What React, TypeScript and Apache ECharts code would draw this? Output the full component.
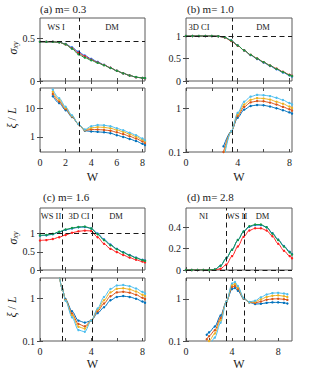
import React, { useEffect, useRef } from "react";
import * as echarts from "echarts";

// ---------- Data ----------
// Panel (a) m = 0.3 : Hall conductivity sigma_xy vs W
const wA = [0, 0.5, 1, 1.5, 2, 2.5, 3, 3.5, 4, 4.5, 5, 5.5, 6, 6.5, 7, 7.5, 8, 8.2];
const sigmaA_blue = [0.46, 0.46, 0.46, 0.455, 0.435, 0.395, 0.345, 0.3, 0.26, 0.225, 0.19, 0.155, 0.12, 0.09, 0.065, 0.045, 0.035, 0.033];
const sigmaA_red = [0.46, 0.46, 0.46, 0.455, 0.43, 0.385, 0.33, 0.29, 0.25, 0.218, 0.188, 0.155, 0.12, 0.09, 0.065, 0.045, 0.035, 0.033];
const sigmaA_green = [0.46, 0.46, 0.46, 0.455, 0.43, 0.38, 0.315, 0.275, 0.243, 0.213, 0.185, 0.153, 0.12, 0.09, 0.065, 0.046, 0.036, 0.034];
// Panel (a) xi/L vs W for four system sizes
const wAxi = [1, 1.5, 2, 2.5, 3, 3.5, 4, 4.5, 5, 5.5, 6, 6.5, 7, 7.5, 8, 8.2];
const xiA_L1 = [26, 14.9, 8.5, 4.9, 2.8, 1.65, 1.55, 1.5, 1.45, 1.35, 1.15, 1.0, 0.85, 0.72, 0.58, 0.52];
const xiA_L2 = [31, 17, 9.3, 5.1, 2.8, 1.7, 1.8, 1.8, 1.75, 1.65, 1.45, 1.25, 1.05, 0.88, 0.7, 0.62];
const xiA_L3 = [37, 19.4, 10.2, 5.3, 2.8, 1.75, 2.05, 2.2, 2.15, 2.0, 1.75, 1.5, 1.25, 1.02, 0.8, 0.7];
const xiA_L4 = [44, 22, 11.1, 5.6, 2.8, 1.8, 2.35, 2.6, 2.55, 2.35, 2.0, 1.7, 1.4, 1.15, 0.88, 0.76];

// Panel (b) m = 1.0
const wB = [0, 0.5, 1, 1.5, 2, 2.5, 3, 3.5, 4, 4.5, 5, 5.5, 6, 6.5, 7, 7.5, 8, 8.2];
const sigmaB_blue = [1, 1, 1, 1, 1, 0.995, 0.97, 0.9, 0.79, 0.68, 0.575, 0.49, 0.41, 0.335, 0.26, 0.19, 0.125, 0.1];
const sigmaB_red = [1, 1, 1, 1, 1, 0.995, 0.965, 0.89, 0.785, 0.68, 0.58, 0.5, 0.42, 0.345, 0.275, 0.205, 0.14, 0.115];
const sigmaB_green = [1, 1, 1, 1, 1, 0.995, 0.97, 0.9, 0.79, 0.68, 0.58, 0.5, 0.42, 0.345, 0.27, 0.2, 0.135, 0.11];
const wBxi = [2.9, 3.5, 4, 4.5, 5, 5.5, 6, 6.5, 7, 7.5, 8, 8.2];
const xiB_L1 = [0.135, 0.3, 0.62, 0.95, 1.15, 1.22, 1.2, 1.12, 1.02, 0.92, 0.82, 0.77];
const xiB_L2 = [0.1, 0.3, 0.68, 1.1, 1.4, 1.5, 1.48, 1.38, 1.25, 1.1, 0.97, 0.9];
const xiB_L3 = [0.08, 0.3, 0.74, 1.25, 1.6, 1.75, 1.72, 1.62, 1.45, 1.3, 1.12, 1.04];
const xiB_L4 = [0.065, 0.3, 0.8, 1.45, 1.9, 2.08, 2.05, 1.95, 1.78, 1.58, 1.35, 1.25];

// Panel (c) m = 1.6
const wC = [0, 0.5, 1, 1.5, 2, 2.5, 3, 3.5, 4, 4.5, 5, 5.5, 6, 6.5, 7, 7.5, 8, 8.2];
const sigmaC_blue = [0.94, 0.95, 0.98, 1.04, 1.1, 1.14, 1.17, 1.18, 1.14, 1.0, 0.84, 0.7, 0.58, 0.49, 0.41, 0.34, 0.28, 0.26];
const sigmaC_red = [0.81, 0.82, 0.85, 0.9, 0.96, 1.02, 1.06, 1.08, 1.07, 0.9, 0.72, 0.58, 0.49, 0.41, 0.34, 0.28, 0.23, 0.21];
const sigmaC_green = [0.95, 0.96, 0.99, 1.05, 1.11, 1.15, 1.18, 1.19, 1.14, 0.98, 0.82, 0.68, 0.57, 0.48, 0.4, 0.33, 0.27, 0.25];
const wCxi = [1.5, 1.75, 2, 2.5, 3, 3.5, 4, 4.5, 5, 5.5, 6, 6.5, 7, 7.5, 8, 8.2];
const xiC_L1 = [3.5, 1.6, 0.95, 0.5, 0.3, 0.27, 0.3, 0.45, 0.62, 0.9, 1.08, 1.13, 1.08, 0.98, 0.84, 0.79];
const xiC_L2 = [3.5, 1.6, 0.92, 0.44, 0.25, 0.22, 0.3, 0.5, 0.76, 1.12, 1.38, 1.43, 1.36, 1.22, 1.03, 0.96];
const xiC_L3 = [3.5, 1.6, 0.9, 0.4, 0.215, 0.195, 0.3, 0.54, 0.9, 1.38, 1.68, 1.73, 1.62, 1.45, 1.22, 1.13];
const xiC_L4 = [3.5, 1.6, 0.88, 0.36, 0.18, 0.165, 0.3, 0.58, 1.08, 1.65, 2.0, 2.05, 1.92, 1.7, 1.42, 1.3];

// Panel (d) m = 2.8
const wD = [0, 0.5, 1, 1.5, 2, 2.5, 3, 3.5, 4, 4.5, 5, 5.5, 6, 6.5, 7, 7.5, 8, 8.5, 9, 9.2];
const sigmaD_blue = [0, 0, 0, 0, 0, 0.005, 0.04, 0.11, 0.19, 0.28, 0.36, 0.405, 0.42, 0.42, 0.4, 0.345, 0.285, 0.225, 0.17, 0.15];
const sigmaD_red = [0, 0, 0, 0, 0, 0.001, 0.012, 0.05, 0.13, 0.22, 0.31, 0.37, 0.39, 0.39, 0.37, 0.315, 0.245, 0.18, 0.13, 0.11];
const sigmaD_green = [0, 0, 0, 0, 0, 0.005, 0.04, 0.11, 0.19, 0.28, 0.36, 0.41, 0.425, 0.425, 0.4, 0.34, 0.28, 0.22, 0.165, 0.145];
const wDxi = [1.8, 2, 2.5, 3, 3.5, 4, 4.25, 4.5, 5, 5.5, 6, 6.5, 7, 7.5, 8, 8.5, 8.8];
const xiD_L1 = [0.14, 0.16, 0.22, 0.4, 0.85, 1.7, 1.8, 1.55, 1.0, 0.82, 0.75, 0.76, 0.8, 0.82, 0.82, 0.8, 0.77];
const xiD_L2 = [0.11, 0.13, 0.18, 0.35, 0.85, 1.9, 2.0, 1.7, 1.02, 0.82, 0.8, 0.86, 0.95, 0.99, 1.0, 0.97, 0.94];
const xiD_L3 = [0.085, 0.1, 0.15, 0.31, 0.85, 2.1, 2.25, 1.85, 1.04, 0.83, 0.85, 0.97, 1.1, 1.18, 1.2, 1.15, 1.1];
const xiD_L4 = [0.065, 0.08, 0.12, 0.27, 0.85, 2.3, 2.5, 2.0, 1.05, 0.84, 0.9, 1.08, 1.26, 1.36, 1.38, 1.33, 1.28];

// Phase boundaries (dashed lines) and quantized plateaus
const boundariesA = [3.03];
const plateauA = [0.465];
const boundariesB = [3.6];
const plateauB = [1];
const boundariesC = [1.77, 4.05];
const plateauC = [1.0];
const boundariesD = [3.48, 5.08];
const plateauD = [0];

// Tick labels
const xTicks = [0, 2, 4, 6, 8];
const xLabelsA = [0, 2, 4, 6, 8];
const xLabelsBCD = [0, 4, 8];
const yLabelsA = [0, 0.5];
const yLabelsB = [0, 0.5, 1];
const yLabelsC = [0, 0.5, 1];
const yLabelsD = [0, 0.2, 0.4];
const yLabelsXiA = [1, 10];
const yLabelsXi = [0.1, 1];

// ---------- Styling ----------
const FONT = '"Liberation Serif", "Times New Roman", serif';
const TOP_BLUE = "#1a6ee8";
const TOP_RED = "#ff1f1f";
const TOP_GREEN = "#139a43";
const XI_COLORS = ["#0072BD", "#D95319", "#EDB120", "#4DBEEE"];
const AXIS_COLOR = "#4a4a4a";
const TEXT_COLOR = "#1a1a1a";

const zip = (xs: number[], ys: number[]) => xs.map((x, i) => [x, ys[i]]);

type GridDef = { left: number; top: number; width: number; height: number };
const gridDefs: GridDef[] = [
  { left: 40, top: 18, width: 105, height: 63 }, // a top
  { left: 40, top: 88, width: 105, height: 64 }, // a bottom
  { left: 186, top: 18, width: 106, height: 63 }, // b top
  { left: 186, top: 88, width: 106, height: 64 }, // b bottom
  { left: 40, top: 208, width: 105, height: 62 }, // c top
  { left: 40, top: 278, width: 105, height: 63 }, // c bottom
  { left: 186, top: 208, width: 106, height: 62 }, // d top
  { left: 186, top: 278, width: 106, height: 63 }, // d bottom
];

type YDef = { type: "value" | "log"; min: number; max: number; labels: number[] };
const xMaxes = [8.2, 8.2, 8.2, 8.2, 8.2, 8.2, 9.2, 9.2];
const xLabelSets: (number[] | null)[] = [null, xLabelsA, null, xLabelsBCD, null, xLabelsBCD, null, xLabelsBCD];
const yDefs: YDef[] = [
  { type: "value", min: 0, max: 0.74, labels: yLabelsA },
  { type: "log", min: 0.3, max: 50, labels: yLabelsXiA },
  { type: "value", min: 0, max: 1.4, labels: yLabelsB },
  { type: "log", min: 0.1, max: 3, labels: yLabelsXi },
  { type: "value", min: 0, max: 1.7, labels: yLabelsC },
  { type: "log", min: 0.1, max: 3, labels: yLabelsXi },
  { type: "value", min: 0, max: 0.58, labels: yLabelsD },
  { type: "log", min: 0.1, max: 3.1, labels: yLabelsXi },
];

const inList = (list: number[], v: number) =>
  list.some((l) => Math.abs(l - v) <= 1e-6 * Math.max(1, Math.abs(l)));
const fmt = (v: number) => String(+Number(v).toPrecision(6));

function buildXAxes(gi: number) {
  const labels = xLabelSets[gi];
  const common = {
    type: "value",
    gridIndex: gi,
    min: 0,
    max: xMaxes[gi],
    axisLine: { show: false },
    splitLine: { show: false },
    axisTick: {
      show: true,
      inside: true,
      length: 3,
      customValues: xTicks,
      lineStyle: { color: AXIS_COLOR, width: 1 },
    },
  };
  const main = {
    ...common,
    position: "bottom",
    axisLabel: labels
      ? {
          show: true,
          customValues: labels,
          margin: 5,
          fontFamily: FONT,
          fontSize: 10,
          color: TEXT_COLOR,
          formatter: (v: number) => (inList(labels, v) ? fmt(v) : ""),
        }
      : { show: false },
  };
  const mirror = { ...common, position: "top", axisLabel: { show: false } };
  return [main, mirror];
}

function buildYAxes(gi: number) {
  const d = yDefs[gi];
  const ticks = d.type === "log" ? d.labels.concat([10].filter((t) => t <= d.max && !d.labels.includes(t))) : d.labels;
  const common: any = {
    type: d.type,
    gridIndex: gi,
    min: d.min,
    max: d.max,
    axisLine: { show: false },
    splitLine: { show: false },
    axisTick: {
      show: true,
      inside: true,
      length: 3,
      customValues: ticks,
      lineStyle: { color: AXIS_COLOR, width: 1 },
    },
  };
  if (d.type === "log") common.logBase = 10;
  const main = {
    ...common,
    position: "left",
    axisLabel: {
      show: true,
      customValues: d.labels,
      margin: 5,
      fontFamily: FONT,
      fontSize: 10,
      color: TEXT_COLOR,
      formatter: (v: number) => (inList(d.labels, v) ? fmt(v) : ""),
    },
  };
  const mirror = { ...common, position: "right", axisLabel: { show: false } };
  return [main, mirror];
}

function dashLines(xs: number[], ys: number[]) {
  return {
    silent: true,
    symbol: ["none", "none"],
    label: { show: false },
    emphasis: { disabled: true },
    lineStyle: { color: "#1a1a1a", type: [5, 3.5], width: 1 },
    data: [...xs.map((x) => ({ xAxis: x })), ...ys.map((y) => ({ yAxis: y }))],
  };
}

function line(gi: number, xs: number[], ys: number[], color: string, marks?: any) {
  const s: any = {
    type: "line",
    xAxisIndex: 2 * gi,
    yAxisIndex: 2 * gi,
    data: zip(xs, ys),
    smooth: 0.3,
    smoothMonotone: "x",
    symbol: "circle",
    symbolSize: 2.4,
    showSymbol: true,
    showAllSymbol: true,
    clip: true,
    silent: true,
    lineStyle: { color, width: 1 },
    itemStyle: { color },
    emphasis: { disabled: true },
  };
  if (marks) s.markLine = marks;
  return s;
}

function sigmaSeries(gi: number, xs: number[], blue: number[], red: number[], green: number[], marks: any) {
  return [line(gi, xs, blue, TOP_BLUE, marks), line(gi, xs, red, TOP_RED), line(gi, xs, green, TOP_GREEN)];
}

function xiSeries(gi: number, xs: number[], sets: number[][], marks: any) {
  return sets.map((ys, i) => line(gi, xs, ys, XI_COLORS[i], i === 0 ? marks : undefined));
}

function txt(text: string, x: number, y: number, size: number, align = "center", extra: any = {}) {
  return {
    type: "text",
    x,
    y,
    silent: true,
    style: {
      text,
      fontFamily: FONT,
      fontSize: size,
      fill: TEXT_COLOR,
      align,
      verticalAlign: "middle",
      textAlign: align,
      textVerticalAlign: "middle",
      ...extra,
    },
  };
}

function sigmaLabel(x: number, y: number) {
  return {
    type: "text",
    x,
    y,
    rotation: Math.PI / 2,
    silent: true,
    style: {
      text: "{i|σ}{s|xy}",
      fill: TEXT_COLOR,
      align: "center",
      verticalAlign: "middle",
      textAlign: "center",
      textVerticalAlign: "middle",
      rich: {
        i: { fontFamily: FONT, fontStyle: "italic", fontSize: 12, lineHeight: 14, fill: TEXT_COLOR },
        s: { fontFamily: FONT, fontStyle: "italic", fontSize: 8, lineHeight: 14, verticalAlign: "bottom", padding: [5, 0, 0, 0], fill: TEXT_COLOR },
      },
    },
  };
}

function xiLabel(x: number, y: number) {
  return {
    type: "text",
    x,
    y,
    rotation: Math.PI / 2,
    silent: true,
    style: {
      text: "{i|ξ}{n| / }{i|L}",
      fill: TEXT_COLOR,
      align: "center",
      verticalAlign: "middle",
      textAlign: "center",
      textVerticalAlign: "middle",
      rich: {
        i: { fontFamily: FONT, fontStyle: "italic", fontSize: 12, fill: TEXT_COLOR },
        n: { fontFamily: FONT, fontSize: 12, fill: TEXT_COLOR },
      },
    },
  };
}

export default function App() {
  const ref = useRef<HTMLDivElement>(null);

  useEffect(() => {
    if (!ref.current) return;
    const chart = echarts.init(ref.current, undefined, { renderer: "svg" });

    const xAxis: any[] = [];
    const yAxis: any[] = [];
    gridDefs.forEach((_, gi) => {
      xAxis.push(...buildXAxes(gi));
      yAxis.push(...buildYAxes(gi));
    });

    const series: any[] = [
      ...sigmaSeries(0, wA, sigmaA_blue, sigmaA_red, sigmaA_green, dashLines(boundariesA, plateauA)),
      ...xiSeries(1, wAxi, [xiA_L1, xiA_L2, xiA_L3, xiA_L4], dashLines(boundariesA, [])),
      ...sigmaSeries(2, wB, sigmaB_blue, sigmaB_red, sigmaB_green, dashLines(boundariesB, plateauB)),
      ...xiSeries(3, wBxi, [xiB_L1, xiB_L2, xiB_L3, xiB_L4], dashLines(boundariesB, [])),
      ...sigmaSeries(4, wC, sigmaC_blue, sigmaC_red, sigmaC_green, dashLines(boundariesC, plateauC)),
      ...xiSeries(5, wCxi, [xiC_L1, xiC_L2, xiC_L3, xiC_L4], dashLines(boundariesC, [])),
      ...sigmaSeries(6, wD, sigmaD_blue, sigmaD_red, sigmaD_green, dashLines(boundariesD, plateauD)),
      ...xiSeries(7, wDxi, [xiD_L1, xiD_L2, xiD_L3, xiD_L4], dashLines(boundariesD, [])),
    ];

    const graphic = [
      txt("(a) m= 0.3", 40, 9, 11, "left"),
      txt("(b) m= 1.0", 187, 9, 11, "left"),
      txt("(c) m= 1.6", 43, 197, 11, "left"),
      txt("(d) m= 2.8", 187, 197, 11, "left"),
      txt("WS I", 56, 27, 8.5),
      txt("DM", 112, 27, 8.5),
      txt("3D CI", 199, 27, 8.5),
      txt("DM", 263, 27, 8.5),
      txt("WS II", 51, 216, 8.5),
      txt("3D CI", 79, 216, 8.5),
      txt("DM", 116, 216, 8.5),
      txt("NI", 203.5, 216, 8.5),
      txt("WS II", 237, 216, 8.5),
      txt("DM", 262.5, 216, 8.5),
      txt("W", 92.5, 177, 12),
      txt("W", 239, 177, 12),
      txt("W", 92.5, 364, 12),
      txt("W", 239, 364, 12),
      sigmaLabel(12.5, 48),
      xiLabel(11.5, 118),
      sigmaLabel(12.5, 238),
      xiLabel(11.5, 307),
    ];

    chart.setOption({
      animation: false,
      backgroundColor: "#ffffff",
      grid: gridDefs.map((g) => ({
        left: g.left,
        top: g.top,
        width: g.width,
        height: g.height,
        show: true,
        borderColor: "#5a5a5a",
        borderWidth: 1,
        backgroundColor: "transparent",
        containLabel: false,
      })),
      xAxis,
      yAxis,
      series,
      graphic,
    });

    return () => chart.dispose();
  }, []);

  return (
    <div
      ref={ref}
      style={{ position: "fixed", left: 0, top: 0, width: 309, height: 371, background: "#fff" }}
    />
  );
}
